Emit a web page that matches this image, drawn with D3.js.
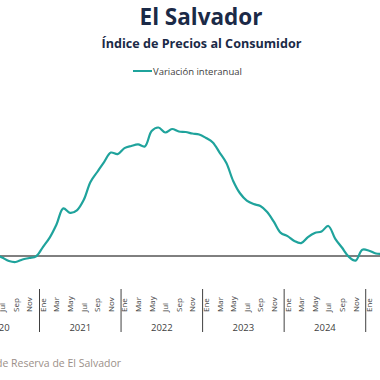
<!DOCTYPE html>
<html><head><meta charset="utf-8">
<script src="https://cdn.jsdelivr.net/npm/d3@7"></script>
<style>html,body{margin:0;padding:0;background:#fff;overflow:hidden}</style>
</head><body>
<svg id="c" width="380" height="380"></svg>
<script>
const title = "El Salvador";
const subtitle = "Índice de Precios al Consumidor";
const seriesName = "Variación interanual";
const source = "Fuente: Banco Central de Reserva de El Salvador";
const monthNames = ["Ene","Feb","Mar","Abr","May","Jun","Jul","Ago","Sep","Oct","Nov","Dic"];
const years = [2020, 2021, 2022, 2023, 2024, 2025];
// months shown on the axis: Jan 2020 .. Mar 2025
const months = [];
years.forEach(y => monthNames.forEach((m, i) => { if (y < 2025 || i < 3) months.push({year: y, month: i, key: y + "-" + i}); }));
// year-on-year variation (%), Jun 2020 .. Mar 2025
const dataStart = "2020-5";
const values = [
  0.10, -0.09, -0.30, -0.36, -0.21, -0.12, -0.02,            // Jun-Dec 2020
  0.54, 1.11, 1.90, 2.87, 2.60, 2.75, 3.37, 4.46, 5.06, 5.66, 6.23, 6.14,   // 2021
  6.50, 6.63, 6.72, 6.60, 7.53, 7.74, 7.44, 7.65, 7.50, 7.47, 7.38, 7.32,   // 2022
  7.11, 6.84, 6.23, 5.60, 4.52, 3.78, 3.34, 3.13, 3.01, 2.65, 2.05, 1.39,   // 2023
  1.20, 0.90, 0.78, 1.14, 1.39, 1.48, 1.81, 1.05, 0.51, -0.04, -0.28, 0.38, // 2024
  0.32, 0.15, 0.12                                           // Jan-Mar 2025
];

const startIdx = months.findIndex(d => d.key === dataStart);
const series = values.map((v, i) => ({m: months[startIdx + i], v}));

const svg = d3.select("#c");
const W = 380;
const step = 6.796;
const jan21 = 39.5;
const x0 = jan21 - 12 * step;
const x = d3.scaleBand().domain(months.map(d => d.key)).range([x0, x0 + months.length * step]).padding(0);
const y = d3.scaleLinear().domain([0, 8]).range([256, 123.2]);

const font = "'Open Sans', 'Noto Sans', sans-serif";

// titles
svg.append("text").attr("x", 201).attr("y", 25).attr("text-anchor", "middle")
  .attr("font-family", font).attr("font-weight", 700).attr("font-size", 22.5)
  .attr("fill", "#1b2a47").text(title);
svg.append("text").attr("x", 201.5).attr("y", 48).attr("text-anchor", "middle")
  .attr("font-family", font).attr("font-weight", 700).attr("font-size", 12.6)
  .attr("fill", "#1b2a47").text(subtitle);

// legend
svg.append("line").attr("x1", 133).attr("x2", 152).attr("y1", 71).attr("y2", 71)
  .attr("stroke", "#1fa39c").attr("stroke-width", 2);
svg.append("text").attr("x", 153).attr("y", 74.5).attr("font-family", font)
  .attr("font-size", 9.5).attr("fill", "#404040").text(seriesName);

// zero line
svg.append("line").attr("x1", 0).attr("x2", W).attr("y1", y(0)).attr("y2", y(0))
  .attr("stroke", "#000").attr("stroke-width", 1);

// series line
const line = d3.line().x(d => x(d.m.key) + x.bandwidth() / 2).y(d => y(d.v)).curve(d3.curveCatmullRom.alpha(0.5));
svg.append("path").datum(series).attr("d", line).attr("fill", "none")
  .attr("stroke", "#1fa39c").attr("stroke-width", 2.2).attr("stroke-linejoin", "round");

// month labels (only those reaching into the visible area)
const ax = svg.append("g");
months.filter(d => d.month % 2 === 0).forEach(d => {
  const cx = x(d.key) + x.bandwidth() / 2;
  if (cx + 3 < 0 || cx > W) return;
  ax.append("text").attr("transform", `translate(${cx + 3},312) rotate(-90)`)
    .attr("font-family", font).attr("font-size", 8).attr("fill", "#404040")
    .text(monthNames[d.month]);
});
// year separators
years.forEach(yr => {
  const k = yr + "-0";
  if (x(k) === undefined || x(k) < 0 || x(k) > W) return;
  ax.append("line").attr("x1", x(k)).attr("x2", x(k)).attr("y1", 289).attr("y2", 332)
    .attr("stroke", "#404040").attr("stroke-width", 1);
});
// year labels
years.forEach(yr => {
  const ms = months.filter(d => d.year === yr);
  if (ms.length < 12) return;
  const cx = (x(ms[0].key) + x(ms[ms.length - 1].key) + x.bandwidth()) / 2;
  ax.append("text").attr("x", cx).attr("y", 331).attr("text-anchor", "middle")
    .attr("font-family", font).attr("font-size", 9.5).attr("fill", "#404040").text(yr);
});

// source
svg.append("text").attr("x", 121).attr("y", 367).attr("text-anchor", "end")
  .attr("font-family", font).attr("font-size", 10.5).attr("fill", "#9b8f89").text(source);
</script>
</body></html>
